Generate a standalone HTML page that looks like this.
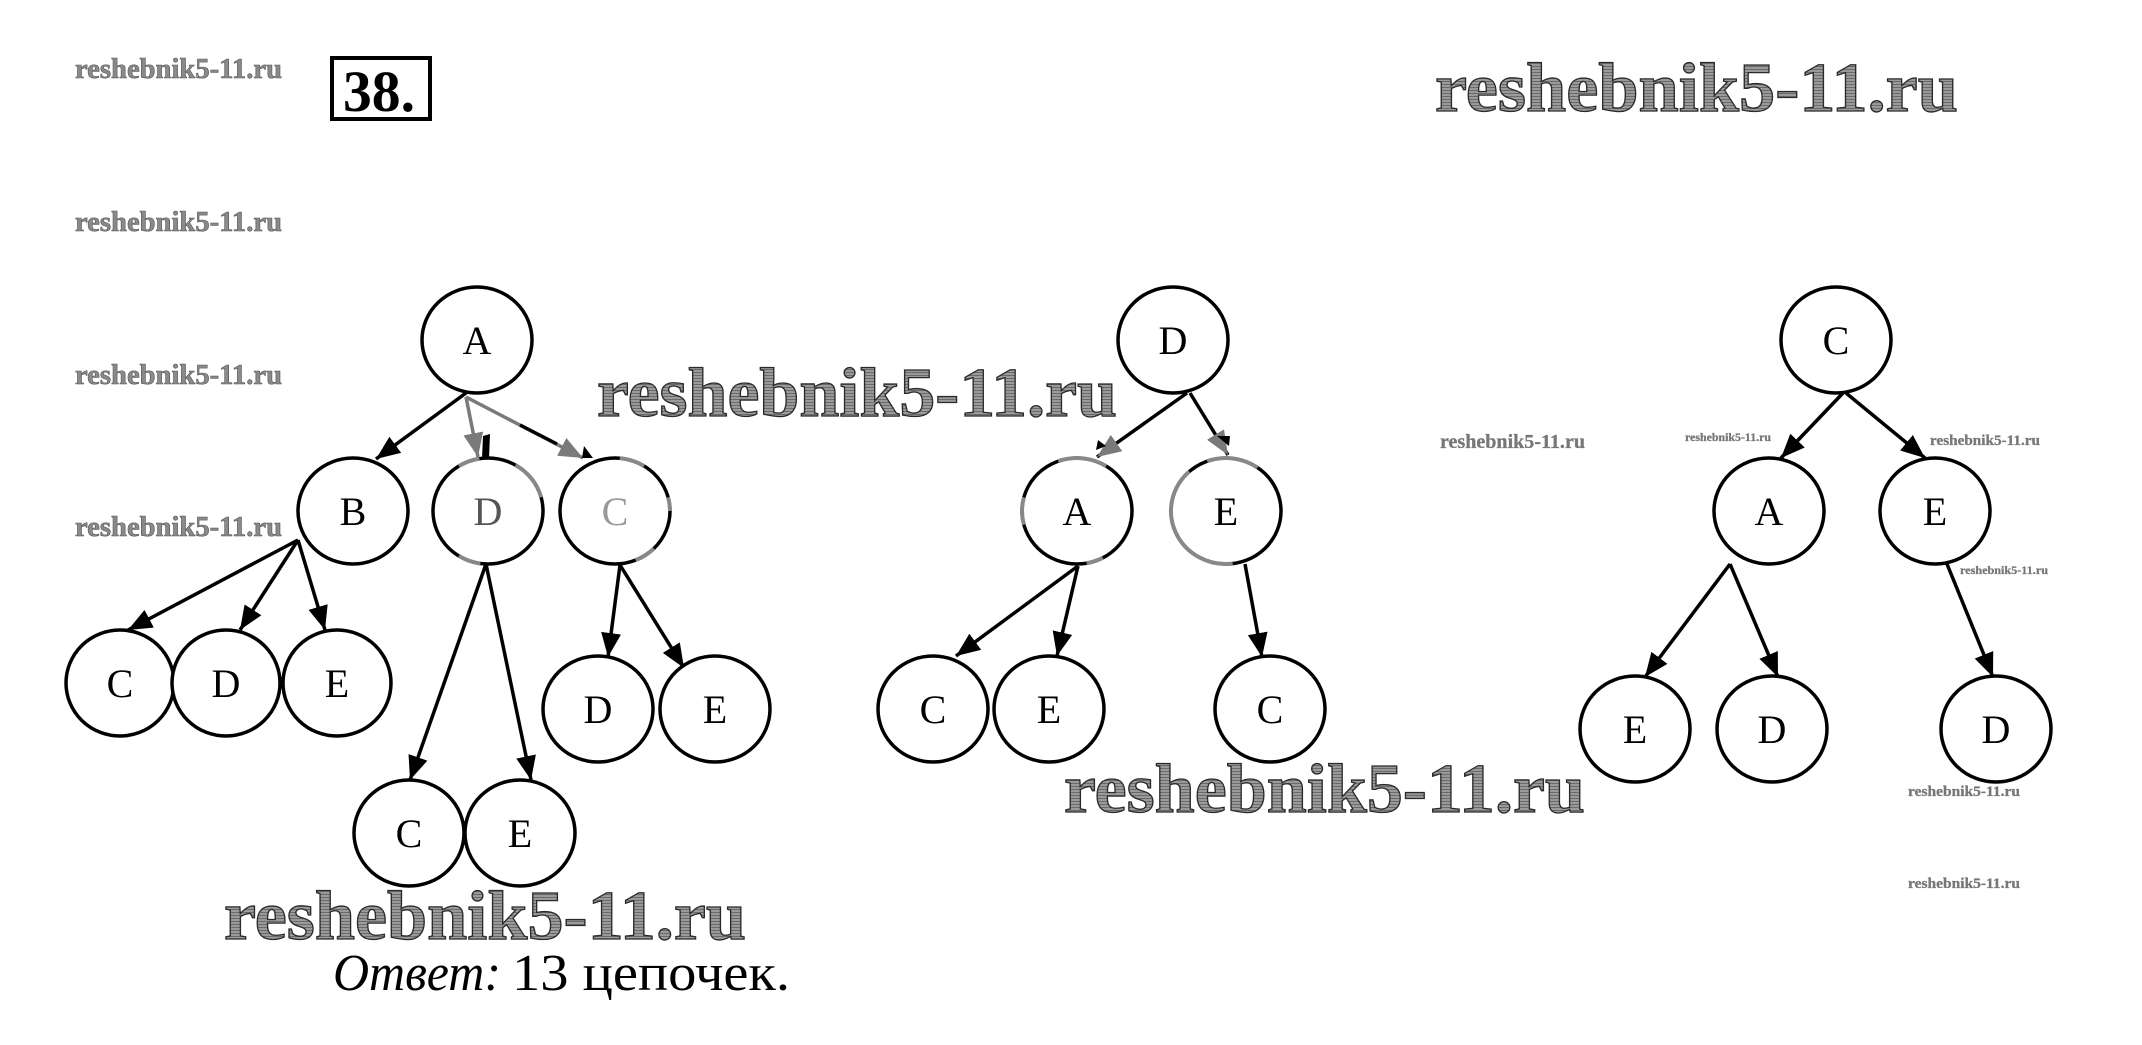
<!DOCTYPE html>
<html>
<head>
<meta charset="utf-8">
<style>
html,body{margin:0;padding:0;background:#fff;}
svg{display:block;}
</style>
</head>
<body>
<svg width="2142" height="1045" viewBox="0 0 2142 1045" xmlns="http://www.w3.org/2000/svg">
<defs>
<marker id="ah" viewBox="0 0 24 20" refX="24" refY="10" markerWidth="24" markerHeight="20" markerUnits="userSpaceOnUse" orient="auto"><path d="M0,0 L24,10 L0,20 z" fill="#000"/></marker>
<marker id="ag" viewBox="0 0 24 20" refX="24" refY="10" markerWidth="24" markerHeight="20" markerUnits="userSpaceOnUse" orient="auto"><path d="M0,0 L24,10 L0,20 z" fill="#7a7a7a"/></marker>
<pattern id="hatch" width="3" height="3" patternUnits="userSpaceOnUse"><rect width="3" height="3" fill="#9a9a9a"/><rect width="3" height="1" fill="#6a6a6a"/></pattern>
</defs>

<!-- small watermarks left -->
<g font-family="Liberation Serif, serif" font-weight="bold" font-size="28" fill="#8a8a8a" stroke="#555" stroke-width="0.6">
<text x="75" y="78" textLength="207" lengthAdjust="spacingAndGlyphs">reshebnik5-11.ru</text>
<text x="75" y="231" textLength="207" lengthAdjust="spacingAndGlyphs">reshebnik5-11.ru</text>
<text x="75" y="384" textLength="207" lengthAdjust="spacingAndGlyphs">reshebnik5-11.ru</text>
<text x="75" y="536" textLength="207" lengthAdjust="spacingAndGlyphs">reshebnik5-11.ru</text>
</g>

<!-- small watermarks right -->
<g font-family="Liberation Serif, serif" font-weight="bold" fill="#777" stroke="#777" stroke-width="0.3">
<text x="1440" y="448" font-size="20" textLength="145" lengthAdjust="spacingAndGlyphs">reshebnik5-11.ru</text>
<text x="1685" y="441" font-size="12" textLength="86" lengthAdjust="spacingAndGlyphs">reshebnik5-11.ru</text>
<text x="1930" y="445" font-size="15" textLength="110" lengthAdjust="spacingAndGlyphs">reshebnik5-11.ru</text>
<text x="1960" y="574" font-size="12" textLength="88" lengthAdjust="spacingAndGlyphs">reshebnik5-11.ru</text>
<text x="1908" y="796" font-size="15" textLength="112" lengthAdjust="spacingAndGlyphs">reshebnik5-11.ru</text>
<text x="1908" y="888" font-size="15" textLength="112" lengthAdjust="spacingAndGlyphs">reshebnik5-11.ru</text>
</g>

<!-- big watermarks -->
<g font-family="Liberation Serif, serif" font-weight="bold" font-size="70" fill="url(#hatch)" stroke="#2a2a2a" stroke-width="1.3">
<text x="1435" y="111" textLength="523" lengthAdjust="spacingAndGlyphs">reshebnik5-11.ru</text>
<text x="597" y="416" textLength="520" lengthAdjust="spacingAndGlyphs">reshebnik5-11.ru</text>
<text x="1064" y="812" textLength="521" lengthAdjust="spacingAndGlyphs">reshebnik5-11.ru</text>
<text x="224" y="939" textLength="522" lengthAdjust="spacingAndGlyphs">reshebnik5-11.ru</text>
</g>

<!-- 38. box -->
<rect x="332" y="58" width="98" height="61" fill="none" stroke="#000" stroke-width="4"/>
<text x="343" y="111" font-family="Liberation Serif, serif" font-weight="bold" font-size="58" textLength="72" lengthAdjust="spacingAndGlyphs" fill="#000">38.</text>

<!-- edges -->
<g stroke="#000" stroke-width="3.5" fill="none">
<!-- tree 1 -->
<line x1="466" y1="393" x2="376" y2="459" marker-end="url(#ah)"/>
<line x1="298" y1="540" x2="128" y2="630" marker-end="url(#ah)"/>
<line x1="298" y1="540" x2="240" y2="630" marker-end="url(#ah)"/>
<line x1="298" y1="540" x2="325" y2="630" marker-end="url(#ah)"/>
<line x1="486" y1="564" x2="410" y2="780" marker-end="url(#ah)"/>
<line x1="486" y1="564" x2="531" y2="780" marker-end="url(#ah)"/>
<line x1="620" y1="565" x2="608" y2="657" marker-end="url(#ah)"/>
<line x1="620" y1="565" x2="684" y2="668" marker-end="url(#ah)"/>
<!-- tree 2 -->
<line x1="1187" y1="393" x2="1097" y2="457" marker-end="url(#ag)"/>
<line x1="1190" y1="393" x2="1228" y2="455" marker-end="url(#ag)"/>
<line x1="1078" y1="566" x2="956" y2="656" marker-end="url(#ah)"/>
<line x1="1078" y1="566" x2="1057" y2="656" marker-end="url(#ah)"/>
<line x1="1245" y1="564" x2="1262" y2="657" marker-end="url(#ah)"/>
<!-- tree 3 -->
<line x1="1843" y1="393" x2="1781" y2="458" marker-end="url(#ah)"/>
<line x1="1846" y1="393" x2="1925" y2="458" marker-end="url(#ah)"/>
<line x1="1730" y1="564" x2="1645" y2="677" marker-end="url(#ah)"/>
<line x1="1730" y1="564" x2="1778" y2="677" marker-end="url(#ah)"/>
<line x1="1947" y1="564" x2="1993" y2="677" marker-end="url(#ah)"/>
</g>
<!-- gray edges tree 1 -->
<g stroke="#7a7a7a" stroke-width="3.5" fill="none">
<line x1="466" y1="397" x2="478" y2="457" marker-end="url(#ag)"/>
<line x1="466" y1="397" x2="583" y2="458" marker-end="url(#ag)"/>
</g>
<line x1="520" y1="425" x2="557" y2="444" stroke="#000" stroke-width="3.5"/>
<polygon points="483,436 490,434 489,458 482,458" fill="#000"/>
<polygon points="584,446 593,458 582,458" fill="#000"/>
<polygon points="1217,436 1230,436 1229,446" fill="#000"/>
<polygon points="1098,440 1106,446 1096,450" fill="#000"/>

<!-- nodes -->
<g fill="#fff" stroke="#000" stroke-width="3.5">
<ellipse cx="477" cy="340" rx="55" ry="53"/>
<ellipse cx="353" cy="511" rx="55" ry="53"/>
<ellipse cx="488" cy="511" rx="55" ry="53"/>
<ellipse cx="615" cy="511" rx="55" ry="53"/>
<ellipse cx="120" cy="683" rx="54" ry="53"/>
<ellipse cx="226" cy="683" rx="54" ry="53"/>
<ellipse cx="337" cy="683" rx="54" ry="53"/>
<ellipse cx="409" cy="833" rx="55" ry="53"/>
<ellipse cx="520" cy="833" rx="55" ry="53"/>
<ellipse cx="598" cy="709" rx="55" ry="53"/>
<ellipse cx="715" cy="709" rx="55" ry="53"/>

<ellipse cx="1173" cy="340" rx="55" ry="53"/>
<ellipse cx="1077" cy="511" rx="55" ry="53"/>
<ellipse cx="1226" cy="511" rx="55" ry="53"/>
<ellipse cx="933" cy="709" rx="55" ry="53"/>
<ellipse cx="1049" cy="709" rx="55" ry="53"/>
<ellipse cx="1270" cy="709" rx="55" ry="53"/>

<ellipse cx="1836" cy="340" rx="55" ry="53"/>
<ellipse cx="1769" cy="511" rx="55" ry="53"/>
<ellipse cx="1935" cy="511" rx="55" ry="53"/>
<ellipse cx="1635" cy="729" rx="55" ry="53"/>
<ellipse cx="1772" cy="729" rx="55" ry="53"/>
<ellipse cx="1996" cy="729" rx="55" ry="53"/>
</g>

<!-- gray arcs -->
<g fill="none" stroke="#888" stroke-width="4">
<path d="M458.9,466.1 A55,53 0 0,1 479.4,458.6"/>
<path d="M515.5,465.1 A55,53 0 0,1 541.1,497.3"/>
<path d="M480.3,563.5 A55,53 0 0,1 458.9,555.9"/>
<path d="M619.8,458.2 A55,53 0 0,1 644.1,466.1"/>
<path d="M668.1,497.3 A55,53 0 0,1 670,511"/>
<path d="M653.9,548.5 A55,53 0 0,1 635.6,560.1"/>
<path d="M1058.2,461.2 A55,53 0 0,1 1106.1,466.1"/>
<path d="M1023.9,524.7 A55,53 0 0,1 1023.9,497.3"/>
<path d="M1102.8,557.8 A55,53 0 0,1 1086.6,563.2"/>
<path d="M1232.7,563.6 A55,53 0 0,1 1189.2,471.6"/>
<path d="M1207.2,461.2 A55,53 0 0,1 1257.5,467.6"/>
</g>

<!-- labels -->
<g font-family="Liberation Serif, serif" font-size="40" text-anchor="middle" fill="#000">
<text x="477" y="354">A</text>
<text x="353" y="525">B</text>
<text x="488" y="525" fill="#555">D</text>
<text x="615" y="525" fill="#999">C</text>
<text x="120" y="697">C</text>
<text x="226" y="697">D</text>
<text x="337" y="697">E</text>
<text x="409" y="847">C</text>
<text x="520" y="847">E</text>
<text x="598" y="723">D</text>
<text x="715" y="723">E</text>

<text x="1173" y="354">D</text>
<text x="1077" y="525">A</text>
<text x="1226" y="525">E</text>
<text x="933" y="723">C</text>
<text x="1049" y="723">E</text>
<text x="1270" y="723">C</text>

<text x="1836" y="354">C</text>
<text x="1769" y="525">A</text>
<text x="1935" y="525">E</text>
<text x="1635" y="743">E</text>
<text x="1772" y="743">D</text>
<text x="1996" y="743">D</text>
</g>

<!-- answer -->
<text x="333" y="990" font-family="Liberation Serif, serif" font-style="italic" font-size="52" textLength="168" lengthAdjust="spacingAndGlyphs" fill="#000">Ответ:</text>
<text x="512" y="990" font-family="Liberation Serif, serif" font-size="52" textLength="278" lengthAdjust="spacingAndGlyphs" fill="#000">13 цепочек.</text>
</svg>
</body>
</html>
